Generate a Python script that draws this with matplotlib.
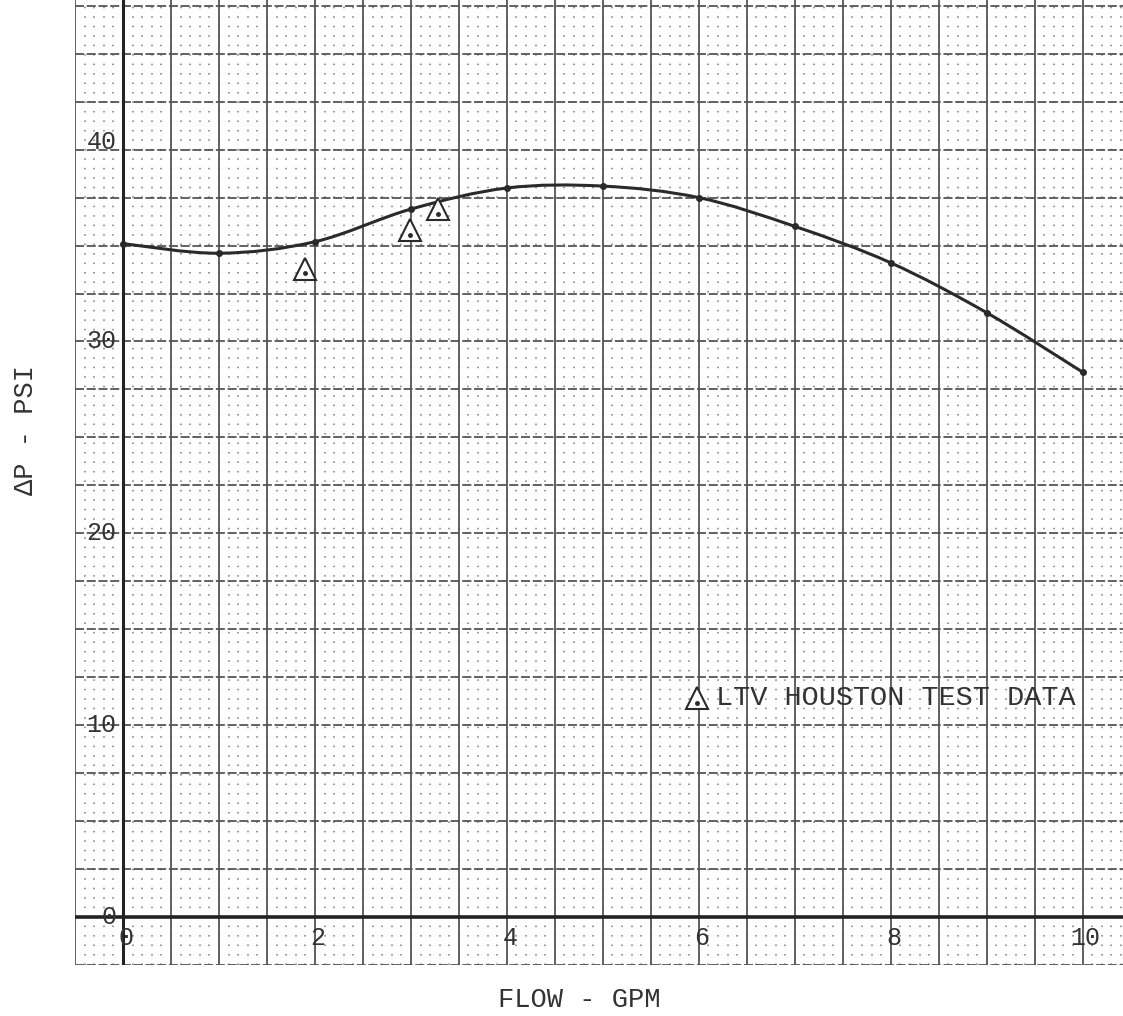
import matplotlib
matplotlib.use("Agg")
import matplotlib.pyplot as plt
from matplotlib.path import Path
from matplotlib.patches import PathPatch
import numpy as np

# Data
flow_curve = [0, 1, 2, 3, 4, 5, 6, 7, 8, 9, 10]
dp_curve = [35.1, 34.6, 35.2, 36.9, 38.0, 38.1, 37.5, 36.0, 34.1, 31.5, 28.4]

flow_test = [1.9, 2.99, 3.28]
dp_test = [33.8, 35.8, 36.9]

x_ticks = [0, 2, 4, 6, 8, 10]
y_ticks = [0, 10, 20, 30, 40]
legend_label = "LTV HOUSTON TEST DATA"

FONT = ["Liberation Mono", "DejaVu Sans Mono"]
ink = "#333333"

fig = plt.figure(figsize=(11.23, 10.16), dpi=100)
ax = fig.add_axes([0.0668, 0.0502, 0.9332, 0.9498])
ax.set_xlim(-0.5, 10.42)
ax.set_ylim(-2.5, 47.8)

for s in ax.spines.values():
    s.set_visible(False)
ax.set_xticks([])
ax.set_yticks([])

# graph paper: minor dot lattice
for xv in np.arange(-0.5, 10.45, 0.1):
    ax.axvline(xv, color="#7a7a7a", lw=1.1, ls=(0, (1.0, 5.2)), zorder=1)
# major grid
for xv in np.arange(-0.5, 10.45, 0.5):
    ax.axvline(xv, color="#555555", lw=1.3, zorder=2)
for yv in np.arange(-2.5, 48, 2.5):
    ax.axhline(yv, color="#555555", lw=1.3, ls=(0, (5, 1.5)), zorder=2)
# axis lines
ax.axvline(0, color="#222222", lw=2.2, zorder=3)
ax.axhline(0, color="#222222", lw=2.6, zorder=3)

# smooth curve through the read points (Catmull-Rom as cubic Bezier)
px = np.array(flow_curve, dtype=float)
py = np.array(dp_curve, dtype=float)
verts = [(px[0], py[0])]
codes = [Path.MOVETO]
n = len(px)
for i in range(n - 1):
    p0 = (px[max(i - 1, 0)], py[max(i - 1, 0)])
    p1 = (px[i], py[i])
    p2 = (px[i + 1], py[i + 1])
    p3 = (px[min(i + 2, n - 1)], py[min(i + 2, n - 1)])
    c1 = (p1[0] + (p2[0] - p0[0]) / 6, p1[1] + (p2[1] - p0[1]) / 6)
    c2 = (p2[0] - (p3[0] - p1[0]) / 6, p2[1] - (p3[1] - p1[1]) / 6)
    verts += [c1, c2, p2]
    codes += [Path.CURVE4] * 3
ax.add_patch(PathPatch(Path(verts, codes), fill=False, ec="#2a2a2a", lw=2.2, zorder=5))
ax.plot(flow_curve, dp_curve, ls="none", marker="o", ms=4, color="#2a2a2a", zorder=5)

# test data triangles
ax.plot(flow_test, dp_test, ls="none", marker="^", ms=16, mfc="white",
        mec="#2a2a2a", mew=1.5, zorder=6)
ax.plot(flow_test, [v - 0.25 for v in dp_test], ls="none", marker="o", ms=2.5,
        color="#2a2a2a", zorder=7)

# legend
ax.plot([5.98], [11.4], ls="none", marker="^", ms=16, mfc="white",
        mec="#2a2a2a", mew=1.5, zorder=6)
ax.plot([5.98], [11.15], ls="none", marker="o", ms=2.5, color="#2a2a2a", zorder=7)
ax.text(6.18, 11.4, legend_label, family=FONT, fontsize=20.5, color=ink,
        va="center", ha="left", zorder=8)

# tick labels
for t in x_ticks:
    ax.text(t + 0.03, -0.45, str(t), family=FONT, fontsize=18, color=ink,
            ha="center", va="top", zorder=8)
for t in y_ticks:
    ax.text(-0.07, t + (0.4 if t == 40 else 0), str(t), family=FONT, fontsize=18,
            color=ink, ha="right", va="center", zorder=8)

fig.text(579 / 1123, 1 - 1000 / 1016, "FLOW - GPM", family=FONT, fontsize=19.5,
         color=ink, ha="center", va="center")
fig.text(26 / 1123, 1 - 430 / 1016, "ΔP - PSI", family=FONT, fontsize=19.5,
         color=ink, ha="center", va="center", rotation=90)

fig.savefig("out.png", dpi=100, facecolor="white")
